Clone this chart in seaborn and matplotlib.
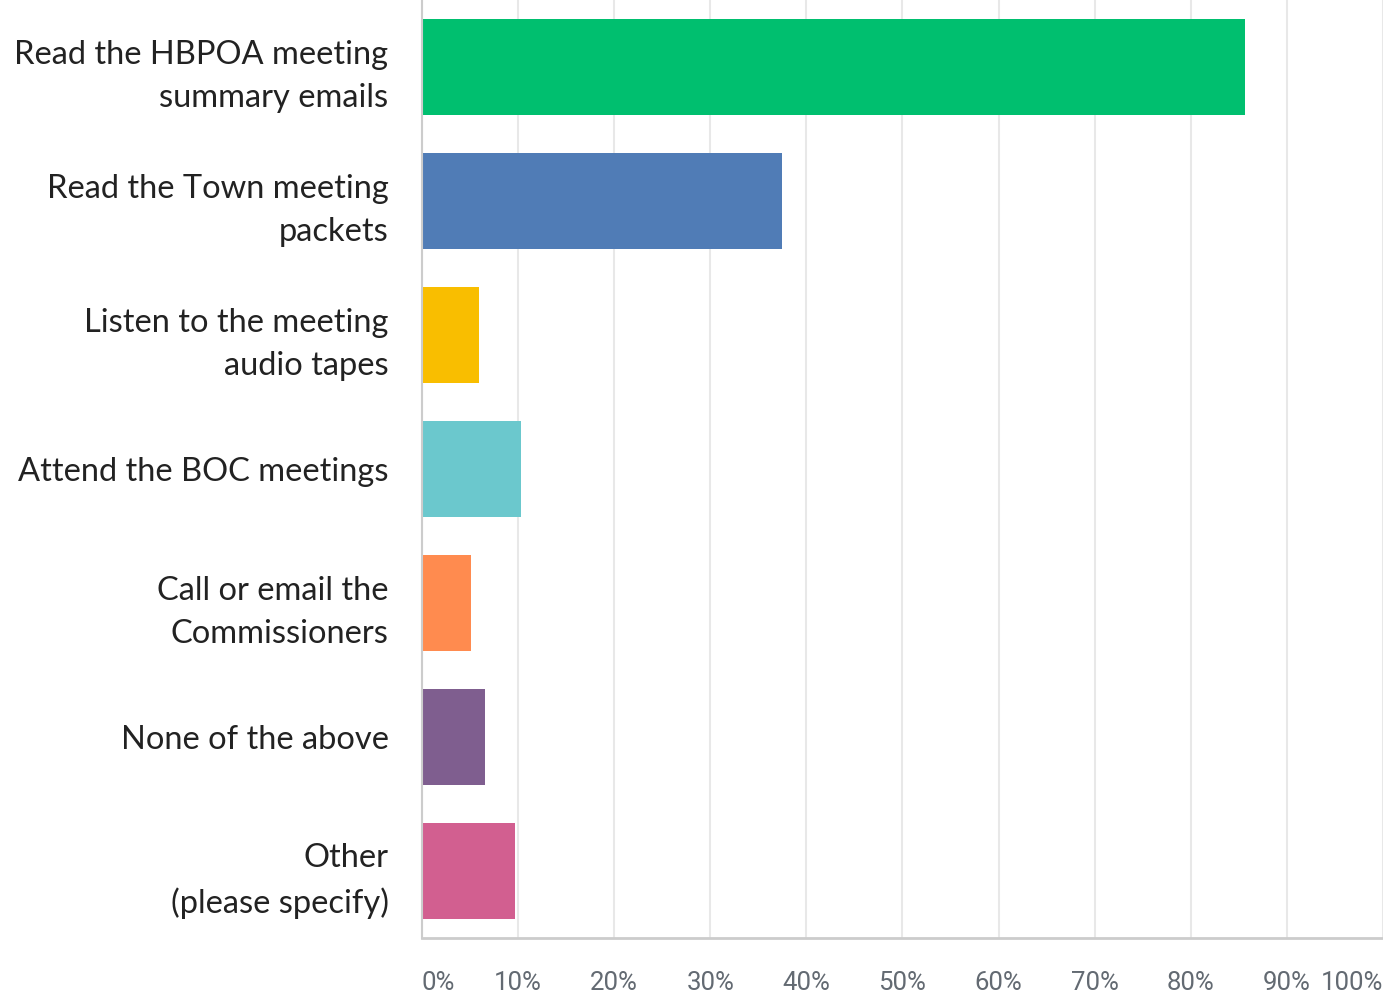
import matplotlib
matplotlib.use("Agg")
import matplotlib.pyplot as plt
import seaborn as sns
import pandas as pd

categories = [
    "Read the HBPOA meeting\nsummary emails",
    "Read the Town meeting\npackets",
    "Listen to the meeting\naudio tapes",
    "Attend the BOC meetings",
    "Call or email the\nCommissioners",
    "None of the above",
    "Other\n(please specify)",
]
values = [85.6, 37.5, 5.9, 10.3, 5.1, 6.6, 9.7]
colors = ["#00bf6f", "#507cb6", "#f9be00", "#6bc8cd", "#ff8b4f", "#7f5e8f", "#d25f90"]
tick_values = list(range(0, 101, 10))
tick_labels = [f"{t}%" for t in tick_values]

df = pd.DataFrame({"category": categories, "value": values})

sns.set_style("white")
plt.rcParams["font.family"] = ["Lato", "DejaVu Sans"]

fig = plt.figure(figsize=(13.83, 10), dpi=100)
ax = fig.add_axes([0.3051, 0.062, 0.6949, 0.938])

sns.barplot(data=df, y="category", x="value", hue="category",
            palette=colors, orient="h", width=0.71, ax=ax,
            legend=False, saturation=1, edgecolor="none")

ax.set_xlim(0, 100)
ax.set_ylim(6.5, -0.5)
ax.set_xticks(tick_values)
ax.set_xticklabels(tick_labels)
ax.set_xlabel("")
ax.set_ylabel("")
ax.grid(axis="x", color="#e8e8e8", linewidth=1.5, zorder=0)
ax.set_axisbelow(True)

for s in ["top", "right"]:
    ax.spines[s].set_visible(False)
ax.spines["bottom"].set_color("#cccccc")
ax.spines["bottom"].set_linewidth(2)
ax.spines["left"].set_color("#cccccc")
ax.spines["left"].set_linewidth(1.5)

ax.tick_params(axis="x", length=0, pad=24, labelsize=18.5, labelcolor="#636a72")
for lab in ax.get_xticklabels():
    lab.set_fontfamily(["Roboto", "DejaVu Sans"])
xl = ax.get_xticklabels()
xl[0].set_horizontalalignment("left")
xl[-1].set_horizontalalignment("right")

ax.tick_params(axis="y", length=0, pad=24, labelsize=23.5, labelcolor="#222222")
for lab in ax.get_yticklabels():
    lab.set_linespacing(1.55)

fig.savefig("out.png", dpi=100)
